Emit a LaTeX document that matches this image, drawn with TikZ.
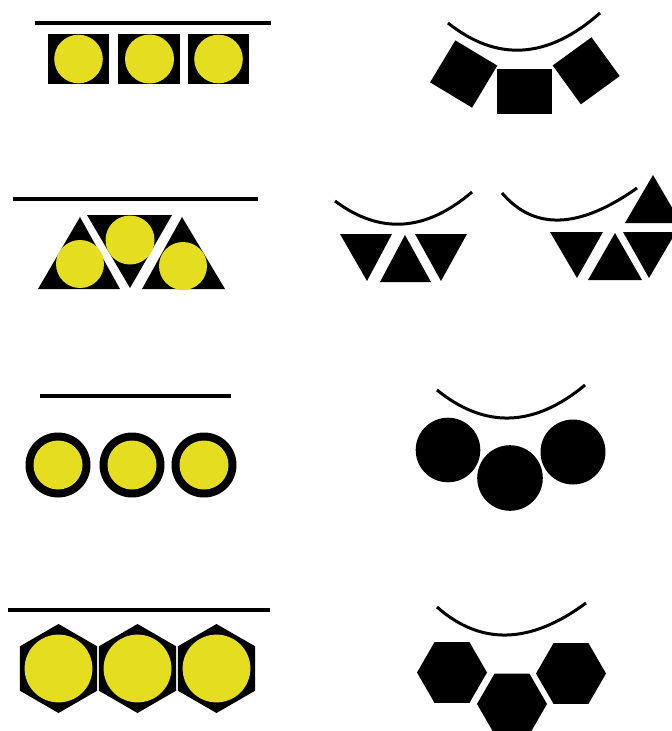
\documentclass[tikz,border=0pt]{standalone}
\usetikzlibrary{calc}
\definecolor{ylw}{RGB}{229,221,31}
\tikzset{
  bar/.style={line width=3.2pt},
  smilecurve/.style={line width=3pt},
  blk/.style={fill=black},
  ydot/.style={fill=ylw}
}
\begin{document}
\begin{tikzpicture}[x=1pt,y=-1pt]
\useasboundingbox (0,0) rectangle (672,731);
\clip (0,0) rectangle (672,731);
\fill[white] (0,0) rectangle (672,731);

% ---------- Row 1 left: squares with yellow discs
\draw[bar] (35,23) -- (271,23);
\fill[blk] (48,34) rectangle (109,84);
\fill[blk] (118,34) rectangle (180,84);
\fill[blk] (188,34) rectangle (249,84);
\fill[ydot] (78.5,59) circle (24.3);
\fill[ydot] (149.5,59) circle (24.5);
\fill[ydot] (218.5,59) circle (24.3);

% ---------- Row 1 right: curve and tilted squares
\draw[smilecurve] (448,23) .. controls (497.3,62.3) and (548,59) .. (600,13);
\fill[blk, shift={(463.7,74)}, rotate=-31] (-24.5,-24.5) rectangle (24.5,24.5);
\fill[blk] (497,69) rectangle (552,114);
\fill[blk, shift={(586.2,70.8)}, rotate=36] (-24,-24) rectangle (24,24);

% ---------- Row 2 left: triangles with yellow discs
\draw[bar] (13,199) -- (258,199);
\fill[blk] (80,217) -- (120,289) -- (38,289) -- cycle;
\fill[blk] (87,215) -- (172,215) -- (130,288) -- cycle;
\fill[blk] (182,217) -- (225,289) -- (142,289) -- cycle;
\fill[ydot] (80,264) circle (24);
\fill[ydot] (130,240) circle (24.5);
\fill[ydot] (183,266) circle (24);

% ---------- Row 2 right, group 1
\draw[smilecurve] (335,201) .. controls (380,234.7) and (425.7,231.7) .. (472,192);
\fill[blk] (340,234) -- (392,234) -- (367,281) -- cycle;
\fill[blk] (405,235) -- (431,282) -- (380,282) -- cycle;
\fill[blk] (415,234) -- (467,234) -- (441,281) -- cycle;

% ---------- Row 2 right, group 2
\draw[smilecurve] (502,193) .. controls (534.3,230.7) and (579.3,229) .. (637,188);
\fill[blk] (550,232) -- (603,232) -- (577,278) -- cycle;
\fill[blk] (615,233) -- (642,280) -- (588,280) -- cycle;
\fill[blk] (623,232) -- (676,232) -- (649,278) -- cycle;
\fill[blk] (653,175) -- (681,223) -- (625,223) -- cycle;

% ---------- Row 3 left: rings
\draw[bar] (40,396) -- (231,396);
\foreach \cx in {58,132,204}{
  \fill[blk] (\cx,465) circle (32.5);
  \fill[ydot] (\cx,465) circle (24.5);
}

% ---------- Row 3 right: curve and discs
\draw[smilecurve] (437,390) .. controls (485,429) and (534.3,427.3) .. (585,385);
\fill[blk] (448,450) circle (32.3);
\fill[blk] (510,478) circle (32.8);
\fill[blk] (573,452) circle (32.5);

% ---------- Row 4 left: pointy hexagons with yellow discs
\draw[bar] (8,610) -- (270,610);
\foreach \cx in {58.5,137.5,216.5}{
  \fill[blk, shift={(\cx,668.5)}] (90:44.5) -- (150:44.5) -- (210:44.5) -- (270:44.5) -- (330:44.5) -- (30:44.5) -- cycle;
  \fill[ydot] (\cx,668.5) circle (33.9);
}

% ---------- Row 4 right: curve and flat hexagons
\draw[smilecurve] (437,607) .. controls (480.7,645.7) and (530.3,644.3) .. (586,603);
\foreach \cx/\cy in {452/672.5,512/704,571/673.5}{
  \fill[blk, shift={(\cx,\cy)}] (0:35) -- (60:35) -- (120:35) -- (180:35) -- (240:35) -- (300:35) -- cycle;
}
\end{tikzpicture}
\end{document}
